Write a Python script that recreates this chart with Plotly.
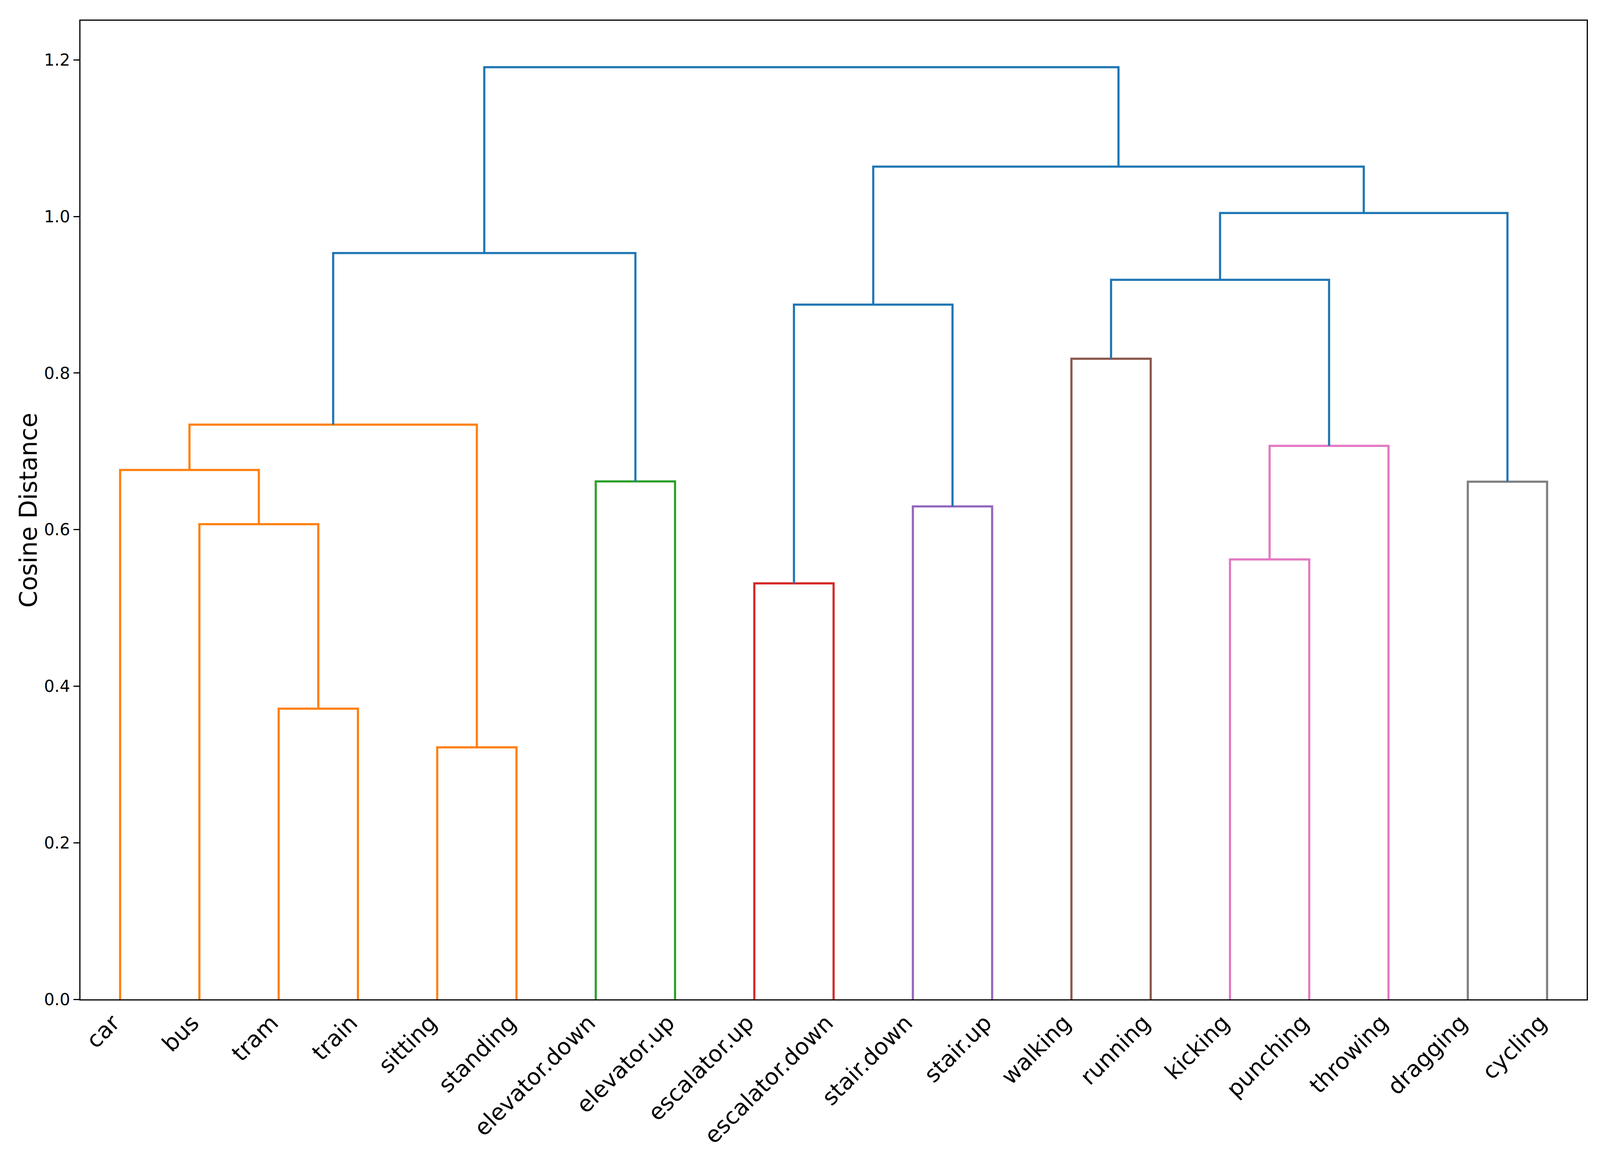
import plotly.graph_objects as go

# ---- data ----
leaves = ["car", "bus", "tram", "train", "sitting", "standing",
          "elevator.down", "elevator.up", "escalator.up", "escalator.down",
          "stair.down", "stair.up", "walking", "running", "kicking",
          "punching", "throwing", "dragging", "cycling"]

# linkage: cluster ids 0..18 are leaves, new clusters are 19, 20, ...
merge_left = [2, 4, 1, 0, 22, 6, 23, 8, 10, 26, 12, 14, 30, 29, 17, 32, 28, 25]
merge_right = [3, 5, 19, 21, 20, 7, 24, 9, 11, 27, 13, 15, 16, 31, 18, 33, 34, 35]
merge_height = [0.3713, 0.3218, 0.6069, 0.6762, 0.7340, 0.6616, 0.9532,
                0.5313, 0.6296, 0.8874, 0.8182, 0.5619, 0.7070, 0.9190,
                0.6612, 1.0044, 1.0636, 1.1906]
merge_color = ["C1", "C1", "C1", "C1", "C1", "C2", "C0",
               "C3", "C4", "C0", "C5", "C6", "C6", "C0",
               "C7", "C0", "C0", "C0"]

y_ticks = [0.0, 0.2, 0.4, 0.6, 0.8, 1.0, 1.2]
y_tick_labels = ["0.0", "0.2", "0.4", "0.6", "0.8", "1.0", "1.2"]

palette = {"C0": "#1f77b4", "C1": "#ff7f0e", "C2": "#2ca02c", "C3": "#d62728",
           "C4": "#9467bd", "C5": "#8c564b", "C6": "#e377c2", "C7": "#7f7f7f"}

# ---- dendrogram geometry (scipy-style leaf spacing of 10) ----
n = len(leaves)
pos = {i: 5 + 10 * i for i in range(n)}
hgt = {i: 0.0 for i in range(n)}
segs = {}
for k, (a, b, h, c) in enumerate(zip(merge_left, merge_right, merge_height, merge_color)):
    cid = n + k
    segs.setdefault(c, ([], []))
    segs[c][0].extend([pos[a], pos[a], pos[b], pos[b], None])
    segs[c][1].extend([hgt[a], h, h, hgt[b], None])
    pos[cid] = (pos[a] + pos[b]) / 2
    hgt[cid] = h

fig = go.Figure()
for c in ["C1", "C2", "C3", "C4", "C5", "C6", "C7", "C0"]:
    if c in segs:
        fig.add_trace(go.Scatter(x=segs[c][0], y=segs[c][1], mode="lines",
                                 line=dict(color=palette[c], width=5.5),
                                 hoverinfo="skip", showlegend=False))

# the browser viewport is 4096 px wide, so the layout is fitted to it
W, H = 4096, 3000
sx = W / 4500.0
font = "DejaVu Sans"
fig.update_layout(
    width=W, height=H,
    paper_bgcolor="white", plot_bgcolor="white",
    margin=dict(l=round(217 * sx), r=round(46 * sx), t=45, b=450, autoexpand=False),
    font=dict(family=font, color="black"),
    showlegend=False,
)
fig.update_xaxes(
    range=[0, 10 * n], tickmode="array",
    tickvals=[5 + 10 * i for i in range(n)], ticktext=leaves,
    tickangle=-45, ticks="", tickfont=dict(size=58, family=font),
    ticklabelshift=-18,
    showgrid=False, zeroline=False, showline=True, linecolor="black",
    linewidth=3.3, mirror=True, automargin=False,
)
fig.update_yaxes(
    range=[0, 1.25], tickmode="array", tickvals=y_ticks, ticktext=y_tick_labels,
    ticks="outside", ticklen=15, tickwidth=3.3, tickcolor="black",
    tickfont=dict(size=42, family=font),
    showgrid=False, zeroline=False, showline=True, linecolor="black",
    linewidth=3.3, mirror=True, automargin=False,
)
fig.add_annotation(
    text="Cosine Distance", xref="paper", yref="paper",
    x=-0.0345, y=0.5, xanchor="center", yanchor="middle",
    textangle=-90, showarrow=False, font=dict(size=62, family=font, color="black"),
)

fig.write_html("out.html")
